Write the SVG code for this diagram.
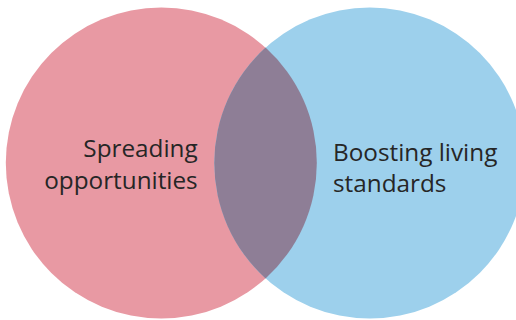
<svg xmlns="http://www.w3.org/2000/svg" width="516" height="320" viewBox="0 0 516 320">
<style>
.lbl{font-family:"Open Sans","Liberation Sans",sans-serif;font-size:24.3px;fill:#262626}
</style>
<rect width="516" height="320" fill="#ffffff"/>
<g id="spreading">
<circle cx="161.3" cy="163" r="155.5" fill="#E899A3"/>
<text class="lbl" text-anchor="end"><tspan x="197.7" y="157">Spreading</tspan><tspan x="197.7" y="189">opportunities</tspan></text>
</g>
<g id="boosting">
<circle cx="369.8" cy="163" r="155.5" fill="#9DD0EC"/>
<text class="lbl"><tspan x="333" y="160.5">Boosting living</tspan><tspan x="333" y="191.5">standards</tspan></text>
</g>
<g id="overlap">
<path d="M265.55 47.6 A155.5 155.5 0 0 1 265.55 278.4 A155.5 155.5 0 0 1 265.55 47.6 Z" fill="#8E7E96"/>
</g>
</svg>
